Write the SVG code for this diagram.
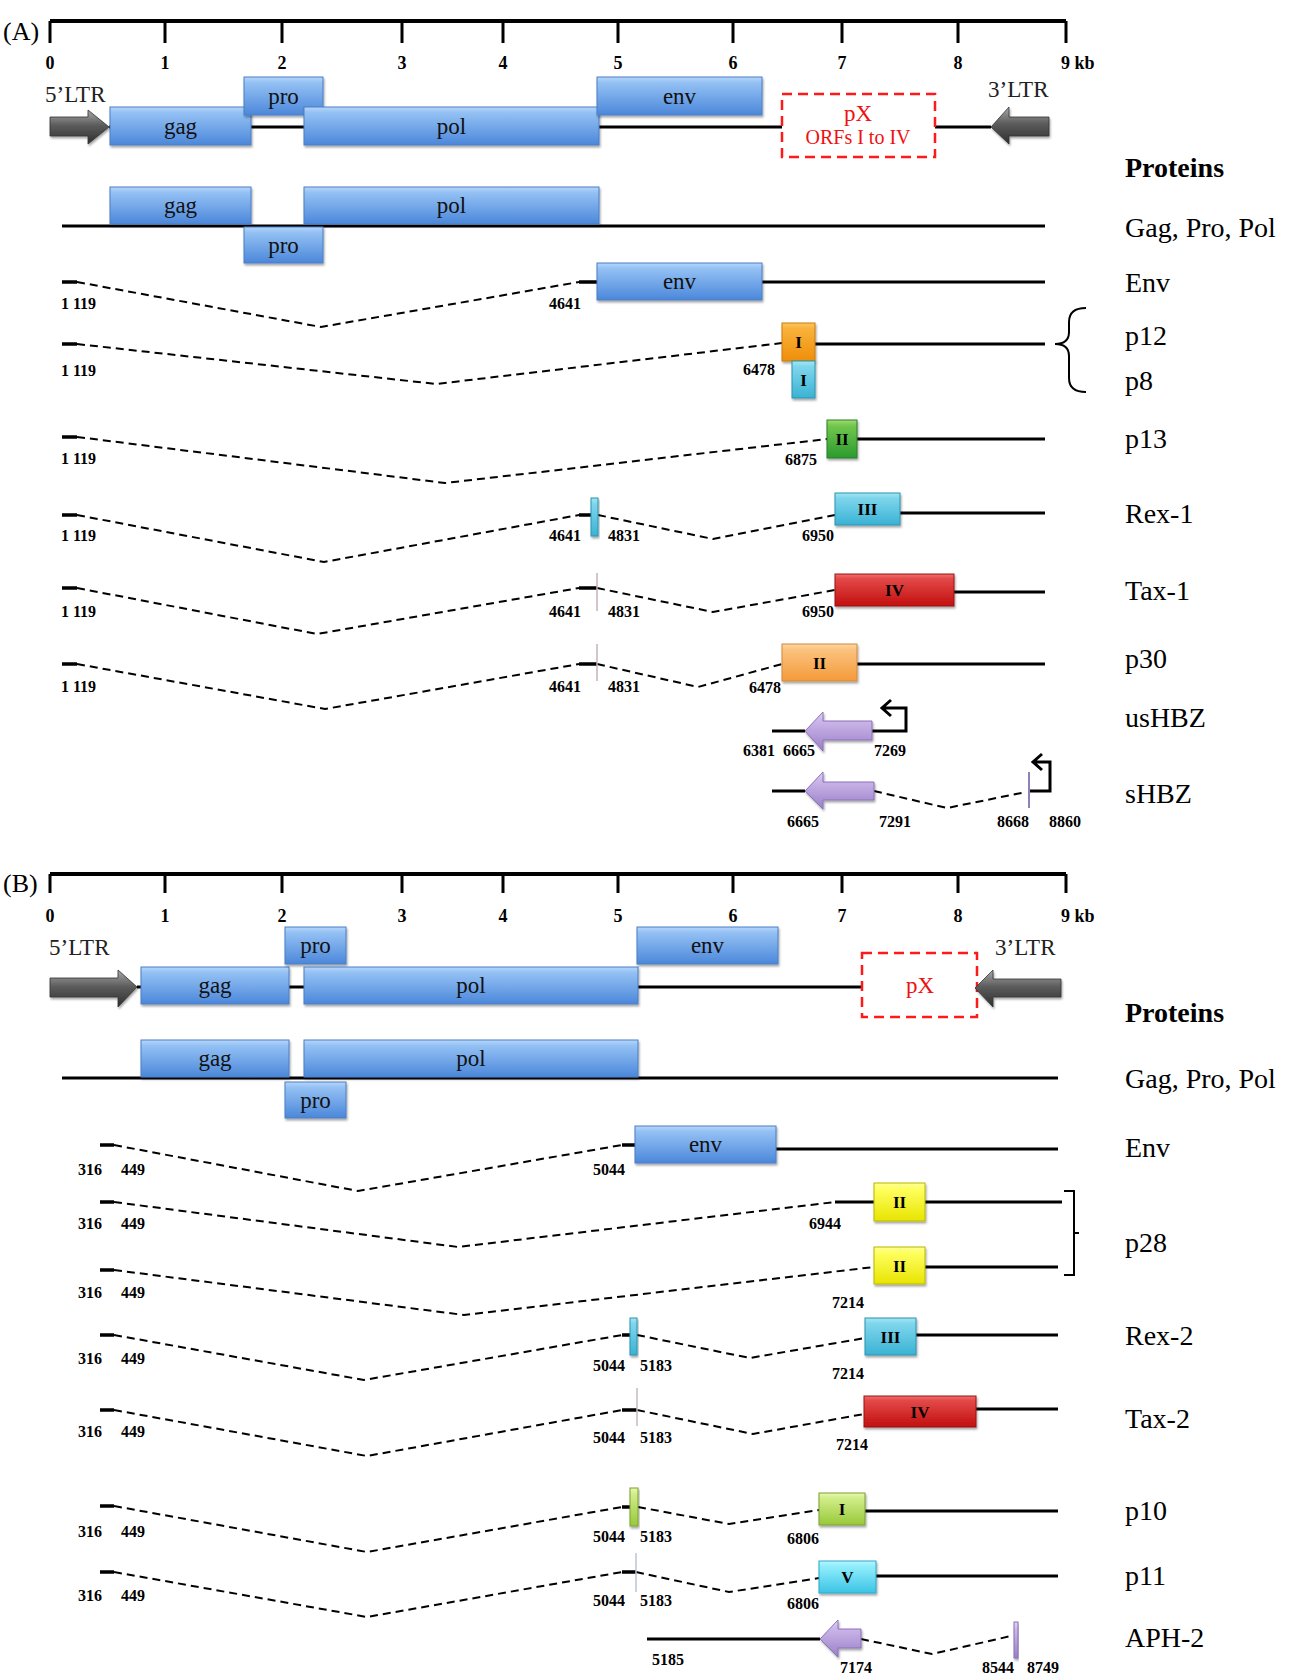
<svg xmlns="http://www.w3.org/2000/svg" width="1295" height="1679" viewBox="0 0 1295 1679">
<style>
.ln{stroke:#000;stroke-width:3;fill:none}
.st{stroke:#000;stroke-width:3.5;fill:none}
.ds{stroke:#000;stroke-width:2;stroke-dasharray:8 5;fill:none}
.ax{stroke:#000;stroke-width:4;fill:none}
.tk{stroke:#000;stroke-width:3;fill:none}
.num{font-family:"Liberation Serif",serif;font-weight:bold;font-size:16px;fill:#000}
.tnum{font-family:"Liberation Serif",serif;font-weight:bold;font-size:18px;fill:#000;text-anchor:middle}
.lbl{font-family:"Liberation Serif",serif;font-size:28px;fill:#000}
.hd{font-family:"Liberation Serif",serif;font-size:28px;font-weight:bold;fill:#000}
.bt{font-family:"Liberation Serif",serif;font-size:23px;fill:#111;text-anchor:middle}
.rn{font-family:"Liberation Serif",serif;font-size:17px;font-weight:bold;fill:#000;text-anchor:middle}
.ltr{font-family:"Liberation Serif",serif;font-size:23px;fill:#222}
.px{font-family:"Liberation Serif",serif;fill:#ee1111;text-anchor:middle}
.pxb{fill:none;stroke:#ff1a1a;stroke-width:2.5;stroke-dasharray:10 6}
.blue{fill:url(#gBlue);stroke:#4a7fc4;stroke-width:1;filter:url(#sh)}
.org{fill:url(#gOrg);stroke:#c97a10;stroke-width:1;filter:url(#sh)}
.org2{fill:url(#gOrg2);stroke:#d08a40;stroke-width:1;filter:url(#sh)}
.cy{fill:url(#gCy);stroke:#2a94b0;stroke-width:1;filter:url(#sh)}
.cy2{fill:url(#gCy2);stroke:#2aa8c8;stroke-width:1;filter:url(#sh)}
.grn{fill:url(#gGrn);stroke:#2a7f2a;stroke-width:1;filter:url(#sh)}
.red{fill:url(#gRed);stroke:#9a1010;stroke-width:1;filter:url(#sh)}
.yel{fill:url(#gYel);stroke:#b8b800;stroke-width:1;filter:url(#sh)}
.lim{fill:url(#gLim);stroke:#7aa030;stroke-width:1;filter:url(#sh)}
.pur{fill:url(#gPur);stroke:#8a70b8;stroke-width:1;filter:url(#sh)}
.gry{fill:url(#gGry);stroke:#333;stroke-width:0.8;filter:url(#sh)}
.thin{stroke-width:1.5;fill:none}
.hook{stroke:#000;stroke-width:3;fill:none}
.brk{stroke:#000;stroke-width:2;fill:none}
</style>
<defs>
<filter id="sh" x="-20%" y="-20%" width="140%" height="150%"><feDropShadow dx="1" dy="2" stdDeviation="1.2" flood-color="#000" flood-opacity="0.35"/></filter>
<linearGradient id="gBlue" x1="0" y1="0" x2="0" y2="1"><stop offset="0" stop-color="#b6d6fb"/><stop offset="0.15" stop-color="#94c1f4"/><stop offset="1" stop-color="#4b87da"/></linearGradient>
<linearGradient id="gOrg" x1="0" y1="0" x2="0" y2="1"><stop offset="0" stop-color="#fcc65a"/><stop offset="0.15" stop-color="#f9b23a"/><stop offset="1" stop-color="#ef8e0a"/></linearGradient>
<linearGradient id="gOrg2" x1="0" y1="0" x2="0" y2="1"><stop offset="0" stop-color="#fdd7a0"/><stop offset="0.15" stop-color="#fbc27e"/><stop offset="1" stop-color="#f49a3a"/></linearGradient>
<linearGradient id="gCy" x1="0" y1="0" x2="0" y2="1"><stop offset="0" stop-color="#a4e6f4"/><stop offset="0.15" stop-color="#7fd6ec"/><stop offset="1" stop-color="#3ab2d4"/></linearGradient>
<linearGradient id="gCy2" x1="0" y1="0" x2="0" y2="1"><stop offset="0" stop-color="#b8f6ff"/><stop offset="0.15" stop-color="#92eefc"/><stop offset="1" stop-color="#3cc4e6"/></linearGradient>
<linearGradient id="gGrn" x1="0" y1="0" x2="0" y2="1"><stop offset="0" stop-color="#a0dc70"/><stop offset="0.15" stop-color="#72c64e"/><stop offset="1" stop-color="#2a9a2e"/></linearGradient>
<linearGradient id="gRed" x1="0" y1="0" x2="0" y2="1"><stop offset="0" stop-color="#f07070"/><stop offset="0.15" stop-color="#e34848"/><stop offset="1" stop-color="#c20f0f"/></linearGradient>
<linearGradient id="gYel" x1="0" y1="0" x2="0" y2="1"><stop offset="0" stop-color="#ffff9a"/><stop offset="0.15" stop-color="#ffff60"/><stop offset="1" stop-color="#e8e400"/></linearGradient>
<linearGradient id="gLim" x1="0" y1="0" x2="0" y2="1"><stop offset="0" stop-color="#e8f8b0"/><stop offset="0.15" stop-color="#d2ee8a"/><stop offset="1" stop-color="#98c83a"/></linearGradient>
<linearGradient id="gPur" x1="0" y1="0" x2="0" y2="1"><stop offset="0" stop-color="#e4d6f4"/><stop offset="0.2" stop-color="#cdb8ea"/><stop offset="1" stop-color="#9a80c8"/></linearGradient>
<linearGradient id="gGry" x1="0" y1="0" x2="0" y2="1"><stop offset="0" stop-color="#a8a8a8"/><stop offset="0.45" stop-color="#5c5c5c"/><stop offset="1" stop-color="#2e2e2e"/></linearGradient>
</defs>
<rect width="1295" height="1679" fill="#fff"/>

<!-- ================= PANEL A ================= -->
<g id="panelA-label"><text x="3" y="40" class="lbl" style="font-size:26px">(A)</text></g>
<g id="scaleA">
<path class="ax" d="M50,21 L1066,21"/>
<path class="tk" d="M50,21 V43 M165,21 V43 M282,21 V43 M402,21 V43 M503,21 V43 M618,21 V43 M733,21 V43 M842,21 V43 M958,21 V43 M1066,21 V43"/>
<text class="tnum" x="50" y="69">0</text><text class="tnum" x="165" y="69">1</text><text class="tnum" x="282" y="69">2</text><text class="tnum" x="402" y="69">3</text><text class="tnum" x="503" y="69">4</text><text class="tnum" x="618" y="69">5</text><text class="tnum" x="733" y="69">6</text><text class="tnum" x="842" y="69">7</text><text class="tnum" x="958" y="69">8</text><text class="tnum" x="1061" y="69" style="text-anchor:start">9 kb</text>
</g>

<g id="connectors">
<!-- A genome -->
<path class="ln" d="M109,127 L782,127 M935,127 L991,127"/>
<!-- A Gag Pro Pol -->
<path class="ln" d="M62,226 L1045,226"/>
<!-- A Env -->
<path class="st" d="M62,282 L77,282 M579,282 L597,282"/>
<path class="ds" d="M77,282 L321,327 L579,282"/>
<path class="ln" d="M762,282 L1045,282"/>
<!-- A p12 -->
<path class="st" d="M62,344 L77,344"/>
<path class="ds" d="M77,344 L436,384 L782,343"/>
<path class="ln" d="M815,344 L1045,344"/>
<!-- A p13 -->
<path class="st" d="M62,437 L77,437"/>
<path class="ds" d="M77,437 L445,483 L827,439"/>
<path class="ln" d="M857,439 L1045,439"/>
<!-- A Rex-1 -->
<path class="st" d="M62,515 L77,515 M579,515 L597,515"/>
<path class="ds" d="M77,515 L324,562 L579,515 M598,515 L713,539 L835,515"/>
<path class="ln" d="M900,513 L1045,513"/>
<!-- A Tax-1 -->
<path class="st" d="M62,588 L77,588 M579,588 L597,588"/>
<path class="ds" d="M77,588 L317,634 L579,588 M597,588 L713,612 L835,590"/>
<path class="ln" d="M954,592 L1045,592"/>
<!-- A p30 -->
<path class="st" d="M62,664 L77,664 M579,664 L597,664"/>
<path class="ds" d="M77,664 L325,709 L579,664 M597,664 L698,687 L782,664"/>
<path class="ln" d="M857,664 L1045,664"/>
<!-- A usHBZ -->
<path class="ln" d="M772,731 L805,731"/>
<path class="hook" d="M872,731 L906,731 L906,708 L882,708 M891,700 L882,708 L891,716"/>
<!-- A sHBZ -->
<path class="ln" d="M772,791 L805,791"/>
<path class="ds" d="M874,791 L947,808 L1026,792"/>
<path class="hook" d="M1029,791 L1050,791 L1050,762 L1033,762 M1042,754 L1033,762 L1042,770"/>
<!-- A splice marks -->
<path class="thin" stroke="#c4b4b4" d="M597,573 V611 M597,644 V681"/>
<path stroke="#9080b8" stroke-width="2" fill="none" d="M1029,772 V808"/>
<!-- A brace -->
<path class="brk" d="M1086,308 Q1069,308 1069,322 L1069,332 Q1069,344 1055,344 Q1069,344 1069,356 L1069,378 Q1069,392 1086,392"/>

<!-- B genome -->
<path class="ln" d="M137,987 L862,987"/>
<!-- B Gag Pro Pol -->
<path class="ln" d="M62,1078 L1058,1078"/>
<!-- B Env -->
<path class="st" d="M100,1145 L114,1145 M622,1145 L635,1145"/>
<path class="ds" d="M114,1145 L358,1191 L622,1145"/>
<path class="ln" d="M776,1149 L1058,1149"/>
<!-- B p28a -->
<path class="st" d="M100,1202 L114,1202"/>
<path class="ds" d="M114,1202 L458,1247 L835,1202"/>
<path class="ln" d="M835,1202 L874,1202 M925,1202 L1062,1202"/>
<!-- B p28b -->
<path class="st" d="M100,1270 L114,1270"/>
<path class="ds" d="M114,1270 L464,1315 L874,1267"/>
<path class="ln" d="M925,1267 L1058,1267"/>
<!-- B Rex-2 -->
<path class="st" d="M100,1335 L114,1335 M622,1335 L637,1335"/>
<path class="ds" d="M114,1335 L364,1380 L622,1335 M637,1335 L750,1358 L865,1338"/>
<path class="ln" d="M916,1335 L1058,1335"/>
<!-- B Tax-2 -->
<path class="st" d="M100,1410 L114,1410 M622,1410 L637,1410"/>
<path class="ds" d="M114,1410 L367,1456 L622,1410 M637,1410 L753,1434 L864,1414"/>
<path class="ln" d="M976,1409 L1058,1409"/>
<!-- B p10 -->
<path class="st" d="M100,1506 L114,1506 M622,1507 L637,1507"/>
<path class="ds" d="M114,1506 L367,1552 L622,1507 M638,1507 L729,1524 L819,1510"/>
<path class="ln" d="M865,1511 L1058,1511"/>
<!-- B p11 -->
<path class="st" d="M100,1572 L114,1572 M622,1572 L636,1572"/>
<path class="ds" d="M114,1572 L367,1617 L622,1572 M636,1572 L729,1592 L819,1578"/>
<path class="ln" d="M876,1576 L1058,1576"/>
<!-- B APH-2 -->
<path class="ln" d="M647,1639 L820,1639"/>
<path class="ds" d="M861,1639 L932,1654 L1011,1636"/>
<!-- B splice marks -->
<path class="thin" stroke="#c8b8b8" d="M637,1388 V1426"/>
<path class="thin" stroke="#b8c4d4" d="M636,1553 V1592"/>
<!-- B bracket -->
<path class="brk" d="M1064,1191 L1074,1191 L1074,1275 L1064,1275 M1074,1233 L1079,1233"/>
</g>

<!-- A genome nodes -->
<g id="A-5LTR"><text class="ltr" x="45" y="102">5’LTR</text><polygon class="gry" points="50,117 88,117 88,110 109,127 88,144 88,136 50,136"/></g>
<g id="A-gag"><rect class="blue" x="110" y="107" width="141" height="38"/><text class="bt" x="180.5" y="134">gag</text></g>
<g id="A-pro"><rect class="blue" x="244" y="77" width="79" height="38"/><text class="bt" x="283.5" y="104">pro</text></g>
<g id="A-pol"><rect class="blue" x="304" y="107" width="295" height="38"/><text class="bt" x="451.5" y="134">pol</text></g>
<g id="A-env"><rect class="blue" x="597" y="77" width="165" height="38"/><text class="bt" x="679.5" y="104">env</text></g>
<g id="A-pX"><rect class="pxb" x="782" y="94" width="153" height="63"/><text class="px" x="858" y="121" style="font-size:23px">pX</text><text class="px" x="858" y="144" style="font-size:20px">ORFs I to IV</text></g>
<g id="A-3LTR"><text class="ltr" x="988" y="97">3’LTR</text><polygon class="gry" points="1049,117 1009,117 1009,107 991,127 1009,144 1009,136 1049,136"/></g>
<g id="A-proteins"><text class="hd" x="1125" y="177">Proteins</text></g>

<!-- A Gag Pro Pol -->
<g id="A-r1">
<rect class="blue" x="110" y="187" width="141" height="37"/><text class="bt" x="180.5" y="213">gag</text>
<rect class="blue" x="304" y="187" width="295" height="37"/><text class="bt" x="451.5" y="213">pol</text>
<rect class="blue" x="244" y="227" width="79" height="36"/><text class="bt" x="283.5" y="253">pro</text>
<text class="lbl" x="1125" y="237">Gag, Pro, Pol</text>
</g>
<g id="A-r2">
<rect class="blue" x="597" y="263" width="165" height="37"/><text class="bt" x="679.5" y="289">env</text>
<text class="num" x="61" y="309">1 119</text><text class="num" x="549" y="309">4641</text>
<text class="lbl" x="1125" y="292">Env</text>
</g>
<g id="A-r3">
<rect class="org" x="782" y="323" width="33" height="38"/><text class="rn" x="798.5" y="348">I</text>
<rect class="cy" x="792" y="361" width="23" height="37"/><text class="rn" x="803.5" y="386">I</text>
<text class="num" x="61" y="376">1 119</text><text class="num" x="743" y="375">6478</text>
<text class="lbl" x="1125" y="345">p12</text><text class="lbl" x="1125" y="390">p8</text>
</g>
<g id="A-r4">
<rect class="grn" x="827" y="420" width="30" height="38"/><text class="rn" x="842" y="445">II</text>
<text class="num" x="61" y="464">1 119</text><text class="num" x="785" y="465">6875</text>
<text class="lbl" x="1125" y="448">p13</text>
</g>
<g id="A-r5">
<rect class="cy" x="591" y="498" width="7" height="38"/>
<rect class="cy" x="835" y="493" width="65" height="32"/><text class="rn" x="867.5" y="515">III</text>
<text class="num" x="61" y="541">1 119</text><text class="num" x="549" y="541">4641</text><text class="num" x="608" y="541">4831</text><text class="num" x="802" y="541">6950</text>
<text class="lbl" x="1125" y="523">Rex-1</text>
</g>
<g id="A-r6">
<rect class="red" x="835" y="574" width="119" height="32"/><text class="rn" x="894.5" y="596">IV</text>
<text class="num" x="61" y="617">1 119</text><text class="num" x="549" y="617">4641</text><text class="num" x="608" y="617">4831</text><text class="num" x="802" y="617">6950</text>
<text class="lbl" x="1125" y="600">Tax-1</text>
</g>
<g id="A-r7">
<rect class="org2" x="782" y="644" width="75" height="37"/><text class="rn" x="819.5" y="669">II</text>
<text class="num" x="61" y="692">1 119</text><text class="num" x="549" y="692">4641</text><text class="num" x="608" y="692">4831</text><text class="num" x="749" y="693">6478</text>
<text class="lbl" x="1125" y="668">p30</text>
</g>
<g id="A-r8">
<polygon class="pur" points="805,731 823,712 823,721 872,721 872,740 823,740 823,751"/>
<text class="num" x="743" y="756">6381</text><text class="num" x="783" y="756">6665</text><text class="num" x="874" y="756">7269</text>
<text class="lbl" x="1125" y="727">usHBZ</text>
</g>
<g id="A-r9">
<polygon class="pur" points="805,791 823,772 823,782 874,782 874,800 823,800 823,809"/>
<text class="num" x="787" y="827">6665</text><text class="num" x="879" y="827">7291</text><text class="num" x="997" y="827">8668</text><text class="num" x="1049" y="827">8860</text>
<text class="lbl" x="1125" y="803">sHBZ</text>
</g>

<!-- ================= PANEL B ================= -->
<g id="panelB-label"><text x="3" y="892" class="lbl" style="font-size:26px">(B)</text></g>
<g id="scaleB">
<path class="ax" d="M50,874 L1066,874"/>
<path class="tk" d="M50,874 V893 M165,874 V893 M282,874 V893 M402,874 V893 M503,874 V893 M618,874 V893 M733,874 V893 M842,874 V893 M958,874 V893 M1066,874 V893"/>
<text class="tnum" x="50" y="922">0</text><text class="tnum" x="165" y="922">1</text><text class="tnum" x="282" y="922">2</text><text class="tnum" x="402" y="922">3</text><text class="tnum" x="503" y="922">4</text><text class="tnum" x="618" y="922">5</text><text class="tnum" x="733" y="922">6</text><text class="tnum" x="842" y="922">7</text><text class="tnum" x="958" y="922">8</text><text class="tnum" x="1061" y="922" style="text-anchor:start">9 kb</text>
</g>
<g id="B-5LTR"><text class="ltr" x="49" y="955">5’LTR</text><polygon class="gry" points="50,978 118,978 118,970 137,987 118,1007 118,997 50,997"/></g>
<g id="B-gag"><rect class="blue" x="141" y="967" width="148" height="37"/><text class="bt" x="215" y="993">gag</text></g>
<g id="B-pro"><rect class="blue" x="285" y="927" width="61" height="37"/><text class="bt" x="315.5" y="953">pro</text></g>
<g id="B-pol"><rect class="blue" x="304" y="967" width="334" height="37"/><text class="bt" x="471" y="993">pol</text></g>
<g id="B-env"><rect class="blue" x="637" y="927" width="141" height="37"/><text class="bt" x="707.5" y="953">env</text></g>
<g id="B-pX"><rect class="pxb" x="862" y="953" width="115" height="64"/><text class="px" x="920" y="993" style="font-size:23px">pX</text></g>
<g id="B-3LTR"><text class="ltr" x="995" y="955">3’LTR</text><polygon class="gry" points="1061,979 993,979 993,970 975,988 993,1007 993,997 1061,997"/></g>
<g id="B-proteins"><text class="hd" x="1125" y="1022">Proteins</text></g>

<g id="B-r1">
<rect class="blue" x="141" y="1040" width="148" height="37"/><text class="bt" x="215" y="1066">gag</text>
<rect class="blue" x="304" y="1040" width="334" height="37"/><text class="bt" x="471" y="1066">pol</text>
<rect class="blue" x="285" y="1082" width="61" height="36"/><text class="bt" x="315.5" y="1108">pro</text>
<text class="lbl" x="1125" y="1088">Gag, Pro, Pol</text>
</g>
<g id="B-r2">
<rect class="blue" x="635" y="1126" width="141" height="37"/><text class="bt" x="705.5" y="1152">env</text>
<text class="num" x="78" y="1175">316</text><text class="num" x="121" y="1175">449</text><text class="num" x="593" y="1175">5044</text>
<text class="lbl" x="1125" y="1157">Env</text>
</g>
<g id="B-r3">
<rect class="yel" x="874" y="1183" width="51" height="38"/><text class="rn" x="899.5" y="1208">II</text>
<text class="num" x="78" y="1229">316</text><text class="num" x="121" y="1229">449</text><text class="num" x="809" y="1229">6944</text>
</g>
<g id="B-r4">
<rect class="yel" x="874" y="1247" width="51" height="37"/><text class="rn" x="899.5" y="1272">II</text>
<text class="num" x="78" y="1298">316</text><text class="num" x="121" y="1298">449</text><text class="num" x="832" y="1308">7214</text>
<text class="lbl" x="1125" y="1252">p28</text>
</g>
<g id="B-r5">
<rect class="cy" x="630" y="1318" width="7" height="37"/>
<rect class="cy" x="865" y="1318" width="51" height="37"/><text class="rn" x="890.5" y="1343">III</text>
<text class="num" x="78" y="1364">316</text><text class="num" x="121" y="1364">449</text><text class="num" x="593" y="1371">5044</text><text class="num" x="640" y="1371">5183</text><text class="num" x="832" y="1379">7214</text>
<text class="lbl" x="1125" y="1345">Rex-2</text>
</g>
<g id="B-r6">
<rect class="red" x="864" y="1396" width="112" height="31"/><text class="rn" x="920" y="1418">IV</text>
<text class="num" x="78" y="1437">316</text><text class="num" x="121" y="1437">449</text><text class="num" x="593" y="1443">5044</text><text class="num" x="640" y="1443">5183</text><text class="num" x="836" y="1450">7214</text>
<text class="lbl" x="1125" y="1428">Tax-2</text>
</g>
<g id="B-r7">
<rect class="lim" x="630" y="1488" width="8" height="38"/>
<rect class="lim" x="819" y="1493" width="46" height="32"/><text class="rn" x="842" y="1515">I</text>
<text class="num" x="78" y="1537">316</text><text class="num" x="121" y="1537">449</text><text class="num" x="593" y="1542">5044</text><text class="num" x="640" y="1542">5183</text><text class="num" x="787" y="1544">6806</text>
<text class="lbl" x="1125" y="1520">p10</text>
</g>
<g id="B-r8">
<rect class="cy2" x="819" y="1561" width="57" height="32"/><text class="rn" x="847.5" y="1583">V</text>
<text class="num" x="78" y="1601">316</text><text class="num" x="121" y="1601">449</text><text class="num" x="593" y="1606">5044</text><text class="num" x="640" y="1606">5183</text><text class="num" x="787" y="1609">6806</text>
<text class="lbl" x="1125" y="1585">p11</text>
</g>
<g id="B-r9">
<polygon class="pur" points="820,1639 838,1620 838,1629 861,1629 861,1648 838,1648 838,1657"/>
<rect class="pur" x="1014" y="1622" width="4" height="36"/>
<text class="num" x="652" y="1665">5185</text><text class="num" x="840" y="1673">7174</text><text class="num" x="982" y="1673">8544</text><text class="num" x="1027" y="1673">8749</text>
<text class="lbl" x="1125" y="1647">APH-2</text>
</g>
</svg>
